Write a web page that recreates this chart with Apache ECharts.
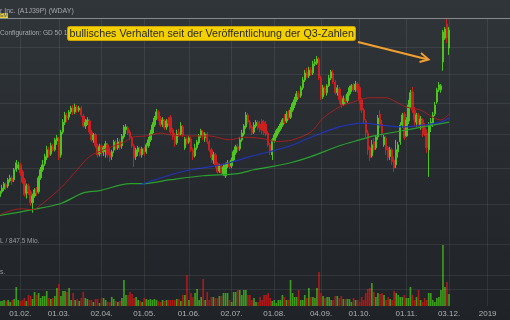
<!DOCTYPE html>
<html><head><meta charset="utf-8">
<script src="https://cdn.jsdelivr.net/npm/echarts@6/dist/echarts.min.js"></script>
<style>html,body{margin:0;padding:0;background:#2a2e33;}#c{width:510px;height:320px;}</style>
</head><body><div id="c"></div>
<script>
// ---- categories (trading days) ----
const startDate = [2018, 0, 18];
const categoryCount = 252;
const holidays = ['2018-02-19','2018-03-30','2018-05-28','2018-07-04','2018-09-03','2018-11-22','2018-12-05','2018-12-25','2019-01-01'];
const tickDates = ['2018-02-01','2018-03-01','2018-04-02','2018-05-01','2018-06-01','2018-07-02','2018-08-01','2018-09-04','2018-10-01','2018-11-01','2018-12-03','2019-01-02'];
const tickLabels = ['01.02.','01.03.','02.04.','01.05.','01.06.','02.07.','01.08.','04.09.','01.10.','01.11.','03.12.','2019'];

// ---- daily candles [open, close, low, high] ----
const ohlc = [
[112.1,113.6,111.6,114.4],[113.4,114.4,112.9,115.3],[114.2,115.6,113.6,116.1],[115.3,114.7,113.9,115.9],[115.0,116.7,114.4,117.2],
[116.4,117.2,115.9,118.1],[117.2,116.1,115.3,117.8],[116.7,119.5,116.1,120.0],[119.5,121.5,118.9,122.3],[120.0,120.9,119.5,121.8],
[120.9,118.6,117.8,121.5],[118.9,116.1,115.6,119.5],[116.7,112.6,112.1,117.2],[113.1,115.0,111.6,115.6],[115.0,113.4,112.6,115.6],
[113.4,110.5,109.7,113.9],[110.5,112.3,107.9,112.9],[112.3,113.9,111.8,114.4],[113.9,113.1,112.3,114.7],[113.4,117.2,112.9,117.8],
[117.2,119.5,116.7,120.3],[119.5,120.9,118.9,122.3],[121.2,123.3,120.6,124.1],[123.0,125.3,122.3,126.5],[125.3,123.8,123.0,126.2],
[124.1,126.5,123.5,127.4],[126.2,125.3,124.8,127.1],[125.3,128.3,124.8,128.9],[128.0,128.9,126.8,129.8],[128.6,123.0,122.3,129.2],
[123.8,130.7,123.0,131.4],[130.7,133.8,130.1,134.8],[133.8,136.1,132.9,137.1],[135.8,135.1,133.8,136.8],[135.4,137.1,134.5,137.7],
[137.1,138.4,136.4,139.1],[138.4,137.1,136.1,139.4],[137.1,138.7,136.4,139.8],[138.7,137.7,136.8,139.4],[137.7,138.4,137.1,139.1],
[138.4,136.1,135.4,139.1],[135.8,132.6,132.0,136.4],[132.6,133.8,131.7,134.8],[133.8,134.5,132.9,135.4],[134.2,130.7,130.1,134.8],
[130.7,128.3,127.7,131.4],[128.3,129.8,127.4,130.4],[129.8,126.5,125.9,130.4],[126.5,123.8,123.0,127.1],[124.1,126.2,123.3,127.1],
[126.5,124.4,123.3,127.1],[124.7,125.9,123.5,126.5],[125.3,127.1,123.0,128.0],[126.8,123.8,123.0,127.4],[124.7,123.0,121.8,125.9],
[123.3,124.7,122.3,125.3],[125.3,127.7,124.4,128.3],[127.4,125.6,125.0,128.3],[125.9,127.7,125.3,128.9],[127.7,126.2,125.3,128.6],
[126.5,129.5,125.6,130.1],[129.2,132.3,128.6,132.9],[131.4,132.3,130.1,133.2],[132.0,130.4,129.8,132.6],[130.7,128.9,128.3,131.4],
[128.9,126.5,125.9,129.5],[126.5,123.0,120.3,127.1],[123.3,125.3,122.3,125.9],[124.7,125.9,123.5,126.5],[125.6,123.8,123.3,126.2],
[123.8,125.6,123.0,126.2],[125.6,124.1,123.5,126.2],[124.7,126.8,124.1,127.4],[126.5,128.3,125.9,129.2],[128.3,130.4,127.7,131.4],
[130.4,132.9,129.8,133.8],[132.9,135.1,132.3,135.8],[135.1,137.1,134.5,138.1],[137.1,135.1,134.2,137.7],[135.1,132.9,132.3,135.8],
[133.2,134.5,132.3,135.4],[134.2,132.0,131.4,134.8],[132.3,134.2,131.4,134.8],[134.5,133.5,132.6,135.4],[135.4,130.7,130.1,136.1],
[131.4,129.2,128.3,132.0],[129.8,127.1,126.2,130.4],[127.4,130.1,126.8,131.4],[130.7,129.8,129.2,131.7],[130.1,132.6,129.5,133.8],
[132.3,129.8,129.2,132.9],[125.9,128.6,125.3,129.2],[128.6,127.4,126.8,129.2],[127.7,128.9,127.1,129.5],[128.6,125.3,124.7,129.2],
[125.3,123.3,122.3,125.9],[123.5,125.9,123.0,127.1],[125.9,127.7,125.3,128.3],[127.4,129.5,126.8,130.1],[129.5,131.1,128.9,131.7],
[130.7,129.2,128.3,131.4],[128.9,130.1,127.7,130.7],[130.1,127.7,127.1,130.7],[127.7,125.3,124.7,128.3],[125.3,123.0,121.5,125.9],
[122.3,123.8,121.2,124.7],[123.8,120.9,120.0,124.4],[121.2,118.9,118.4,121.8],[119.2,120.6,118.6,121.2],[120.6,118.6,118.1,121.2],
[118.4,120.3,117.8,121.2],[117.8,120.9,117.2,121.5],[120.6,121.5,120.0,122.3],[121.5,120.3,119.7,122.1],[120.6,122.3,120.0,123.0],
[122.3,124.7,121.8,125.3],[124.4,126.2,123.8,126.8],[126.2,125.3,124.7,127.1],[125.6,128.3,125.0,129.2],[128.3,130.4,127.7,131.4],
[130.1,132.6,129.5,133.2],[132.3,136.1,131.7,137.1],[136.1,133.8,133.2,136.8],[133.8,132.0,131.4,134.5],[132.3,130.4,129.8,132.9],
[130.7,132.9,130.1,133.8],[132.6,133.8,132.0,134.5],[133.8,132.0,131.4,134.5],[133.2,131.4,130.7,134.2],[134.2,131.1,130.1,134.8],
[133.8,130.4,129.8,134.5],[133.2,130.1,129.5,134.2],[130.4,126.8,126.2,131.1],[126.8,124.7,123.8,127.4],[123.8,128.3,122.3,128.9],
[128.0,129.8,127.4,130.4],[129.5,131.1,128.9,131.7],[130.7,132.0,130.1,132.6],[131.7,133.2,131.1,133.8],[132.9,134.5,132.3,135.1],
[135.1,133.8,133.2,136.4],[134.2,136.4,133.5,137.4],[136.8,135.1,134.5,137.7],[135.4,137.7,134.8,138.7],[137.7,139.8,137.1,140.4],
[139.4,141.1,138.4,142.1],[141.1,143.1,140.4,144.1],[143.1,142.1,141.4,144.1],[142.5,145.2,141.8,145.9],[145.2,147.9,144.5,149.0],
[147.9,150.4,147.2,151.5],[150.8,149.0,148.6,152.2],[149.4,151.5,148.6,152.6],[151.5,150.1,149.4,152.6],[150.4,153.7,149.7,154.8],
[153.7,154.4,152.9,155.5],[154.0,155.5,153.3,156.6],[155.5,148.6,147.9,156.2],[148.6,142.1,141.1,149.4],[142.1,145.2,141.4,146.2],
[145.2,143.5,142.8,145.9],[143.5,145.9,142.5,146.5],[145.9,148.6,145.5,149.7],[148.6,150.8,147.9,151.5],[150.4,147.2,146.5,151.5],
[147.2,143.5,142.8,147.9],[143.5,145.2,142.5,146.2],[144.8,141.1,139.8,145.5],[141.8,139.4,138.4,142.5],[139.8,141.4,139.1,142.5],
[141.4,140.4,139.4,142.8],[140.8,143.1,140.1,143.8],[143.1,145.2,142.5,145.9],[144.5,145.9,143.8,146.5],[145.9,144.5,143.8,146.9],
[144.5,146.5,143.8,147.6],[146.5,144.5,143.5,147.2],[145.2,141.1,139.8,145.9],[141.1,137.7,136.8,141.8],[137.7,134.5,133.2,138.4],
[134.2,130.4,129.2,134.8],[130.4,125.3,123.8,131.4],[125.9,123.0,122.1,126.5],[123.5,126.8,123.0,128.3],[127.7,125.3,124.4,128.9],
[125.9,129.2,125.3,129.8],[129.2,135.1,128.3,136.1],[136.4,132.6,132.0,137.7],[133.2,130.4,129.2,134.5],[126.8,129.2,126.2,129.8],
[128.9,125.3,123.8,129.5],[125.9,123.0,122.1,126.5],[123.3,125.3,122.3,126.2],[125.3,121.8,120.9,125.9],[122.3,120.0,118.9,123.3],
[120.9,125.3,120.0,128.3],[124.7,126.8,123.0,127.7],[127.7,132.9,126.8,133.8],[132.9,136.1,132.0,136.8],[136.4,128.9,128.3,137.1],
[129.5,134.5,129.2,135.4],[134.2,139.4,133.2,141.1],[139.4,143.5,138.4,144.5],[143.8,137.7,136.8,145.5],[137.7,134.5,132.3,138.7],
[133.8,136.1,132.3,136.8],[136.1,133.2,132.3,136.8],[132.6,134.8,131.4,135.8],[134.5,132.0,129.2,135.1],[132.0,130.1,129.5,133.5],
[130.4,125.9,124.4,131.4],[125.3,132.9,117.5,133.8],[132.6,133.8,130.7,135.1],[133.2,136.1,132.3,137.1],[136.4,139.4,135.8,140.4],
[140.4,144.5,139.8,145.2],[144.5,146.2,143.8,147.2],[144.5,145.9,143.5,146.5],[154.4,165.8,151.2,166.6],[163.4,167.0,162.7,167.8],
[169.0,163.4,161.5,171.4],[159.6,166.6,157.0,167.8]
];

// ---- daily volume (Mio.) ----
const volume = [
1.0,1.0,1.2,1.0,1.2,0.8,1.2,1.4,3.8,1.2,
1.0,1.2,1.6,1.0,2.2,2.0,1.4,2.8,2.2,2.6,
1.6,2.0,2.0,3.0,1.6,1.4,1.6,2.0,3.6,4.4,
2.0,3.0,3.0,2.8,3.6,1.2,2.6,1.2,1.4,1.0,
1.6,2.8,1.6,1.4,1.2,1.2,0.8,1.4,1.4,0.6,
1.6,1.6,1.2,0.8,0.8,1.8,1.4,1.0,0.8,1.0,
1.6,5.2,2.2,2.2,2.8,2.4,1.6,1.8,1.2,1.0,
0.8,1.6,1.4,1.2,1.4,1.2,1.4,1.2,1.0,0.8,
1.2,1.0,1.2,1.2,1.2,1.2,1.2,1.4,1.4,1.0,
2.2,2.2,6.2,1.2,2.6,1.8,2.6,3.4,1.2,1.8,
5.4,1.2,2.8,1.2,1.8,1.8,1.6,1.6,2.0,2.0,
2.6,2.6,2.6,1.2,0.8,2.8,2.8,3.2,3.2,2.2,
3.2,3.2,2.2,2.2,1.2,1.6,0.8,0.8,1.8,1.2,
2.2,2.2,2.6,1.6,1.0,1.2,0.6,1.2,1.2,2.2,
1.8,1.2,1.2,5.2,2.6,1.8,1.8,3.2,1.2,1.2,
2.2,1.6,3.6,1.8,1.8,1.6,3.6,6.8,2.6,2.0,
1.6,1.8,1.8,1.2,1.2,2.0,2.0,1.6,2.0,1.4,
1.4,1.4,1.4,0.8,1.6,1.2,1.2,0.8,1.8,1.2,
2.6,3.4,3.6,4.6,2.8,1.8,2.6,2.4,2.6,2.2,
1.2,1.8,1.4,1.2,3.0,2.6,2.2,1.8,1.8,2.2,
1.6,1.6,3.8,2.2,1.2,1.8,3.2,1.2,0.8,1.6,
1.2,2.6,2.6,1.2,0.8,1.6,1.8,3.2,12.2,3.8,
4.8,2.4
];

// ---- moving averages [category index, value] ----
const maRed = [[0,107.4],[10,108.9],[16,108.7],[21,110.3],[30,114.5],[38,119.5],[44,123.3],[51,125.3],[61,127.6],[65,129.1],[72,129.5],[79,130.4],[84,129.8],[94,129.5],[103,129.5],[113,128.3],[120,129.1],[129,128.7],[136,127.8],[144,128.3],[153,130.7],[159,135.1],[167,138.7],[174,140.4],[182,141.8],[190,141.8],[195,140.4],[200,138.7],[207,137.7],[213,135.4],[217,134.5],[221,136.4]];
const maBlue = [[69,115.3],[84,118.1],[94,119.5],[103,120.3],[113,121.5],[123,123.3],[133,124.8],[143,126.5],[153,129.1],[167,132.3],[179,133.5],[187,132.9],[198,132.3],[208,132.9],[217,133.8],[221,135.1]];
const maGreen = [[0,107.2],[16,108.7],[30,110.3],[41,113.1],[49,113.7],[64,115.6],[70,115.6],[84,116.7],[100,117.8],[117,118.4],[125,119.5],[133,120.3],[143,121.5],[153,123.3],[167,126.5],[177,128.3],[184,129.5],[198,131.1],[208,132.3],[221,133.8]];

const priceGridLevels = [90,100,110,120,130,140,150,160];
const volumeGridLevels = [6.2];

// ---- build trading-day categories ----
function buildDays() {
  const out = [];
  const d = new Date(Date.UTC(startDate[0], startDate[1], startDate[2]));
  while (out.length < categoryCount) {
    const wd = d.getUTCDay();
    const s = d.toISOString().slice(0, 10);
    if (wd !== 0 && wd !== 6 && holidays.indexOf(s) < 0) out.push(s);
    d.setUTCDate(d.getUTCDate() + 1);
  }
  return out;
}
const days = buildDays();
const isTick = (i, v) => tickDates.indexOf(v) >= 0;

const UP = '#4fc41f', DOWN = '#cc1f1f';
const VUP = '#3c9a1e', VDOWN = '#a81a1a';
const GRIDC = 'rgba(255,255,255,0.075)';
const FONT = '"Liberation Sans", Arial, sans-serif';

const chart = echarts.init(document.getElementById('c'), null, {renderer: 'canvas'});
chart.setOption({
  animation: false,
  backgroundColor: new echarts.graphic.LinearGradient(0, 0, 0, 1, [
    {offset: 0, color: '#30353a'}, {offset: 1, color: '#1f2226'}
  ]),
  grid: [
    {left: 0, right: 0, top: 18, bottom: 14},
    {left: 0, right: 0, top: 226, bottom: 14}
  ],
  xAxis: [
    {type: 'category', gridIndex: 0, data: days, boundaryGap: false,
     axisLine: {show: false}, axisTick: {show: false},
     axisLabel: {interval: isTick, color: '#b0b3b6', fontSize: 8, fontFamily: FONT, margin: 4,
       formatter: v => { const j = tickDates.indexOf(v); return j >= 0 ? tickLabels[j] : ''; }},
     splitLine: {show: true, interval: isTick, lineStyle: {color: GRIDC, width: 1}}},
    {type: 'category', gridIndex: 1, data: days, boundaryGap: false, show: false}
  ],
  yAxis: [
    {type: 'log', gridIndex: 0, min: 86.44, max: 171.4, show: false, splitLine: {show: false}},
    {type: 'value', gridIndex: 1, min: 0, max: 16, show: false, splitLine: {show: false}}
  ],
  series: [
    {type: 'bar', xAxisIndex: 1, yAxisIndex: 1, barWidth: 1.7, z: 1,
     data: volume.map((v, i) => ({value: v, itemStyle: {color: ohlc[i][1] >= ohlc[i][0] ? VUP : VDOWN}})),
     markLine: {silent: true, symbol: ['none', 'none'], label: {show: false},
       lineStyle: {color: GRIDC, type: 'solid', width: 1},
       data: volumeGridLevels.map(v => ({yAxis: v}))}},
    {type: 'candlestick', xAxisIndex: 0, yAxisIndex: 0, barWidth: 1.9, clip: false, z: 3,
     data: ohlc,
     itemStyle: {color: UP, color0: DOWN, borderColor: UP, borderColor0: DOWN, borderWidth: 1},
     markLine: {silent: true, symbol: ['none', 'none'], label: {show: false},
       lineStyle: {color: GRIDC, type: 'solid', width: 1},
       data: priceGridLevels.map(v => ({yAxis: v}))}},
    {type: 'line', xAxisIndex: 0, yAxisIndex: 0, data: maGreen, showSymbol: false, smooth: 0.3, z: 4,
     lineStyle: {color: '#2aa12f', width: 1.2}},
    {type: 'line', xAxisIndex: 0, yAxisIndex: 0, data: maBlue, showSymbol: false, smooth: 0.3, z: 4,
     lineStyle: {color: '#2233b8', width: 1.2}},
    {type: 'line', xAxisIndex: 0, yAxisIndex: 0, data: maRed, showSymbol: false, smooth: 0.3, z: 4,
     lineStyle: {color: '#a32020', width: 1}}
  ],
  graphic: [
    {type: 'line', z: 10, shape: {x1: 0, y1: 18.5, x2: 510, y2: 18.5}, style: {stroke: '#85898d', lineWidth: 1}},
    {type: 'text', z: 10, x: 0, y: 11, style: {text: 'r Inc. (A1J39P) (WDAY)', font: '7px ' + FONT, fill: '#a4a8ac', textAlign: 'left', textVerticalAlign: 'middle', align: 'left', verticalAlign: 'middle'}},
    {type: 'rect', z: 10, shape: {x: 0, y: 13, width: 8, height: 5}, style: {fill: '#e6d23c'}},
    {type: 'text', z: 11, x: 4, y: 15.6, style: {text: 'EM', font: '5px ' + FONT, fill: '#555', textAlign: 'center', textVerticalAlign: 'middle', align: 'center', verticalAlign: 'middle'}},
    {type: 'text', z: 10, x: 0, y: 33, style: {text: 'Configuration: GD 50 100 200', font: '6.6px ' + FONT, fill: '#a4a8ac', textAlign: 'left', textVerticalAlign: 'middle', align: 'left', verticalAlign: 'middle'}},
    {type: 'rect', z: 12, shape: {x: 67.5, y: 26.5, width: 288, height: 14, r: 2}, style: {fill: '#f4d000', stroke: '#c9a400', lineWidth: 1}},
    {type: 'text', z: 13, x: 69.5, y: 33.8, style: {text: 'bullisches Verhalten seit der Veröffentlichung der Q3-Zahlen', font: '10.7px ' + FONT, fill: '#2a2a2a', textAlign: 'left', textVerticalAlign: 'middle', align: 'left', verticalAlign: 'middle'}},
    {type: 'line', z: 12, shape: {x1: 358, y1: 42, x2: 428, y2: 59.5}, style: {stroke: '#f0a030', lineWidth: 2}},
    {type: 'polyline', z: 12, shape: {points: [[421, 53], [428.5, 59.5], [419.5, 62]]}, style: {stroke: '#f0a030', lineWidth: 2, fill: null}},
    {type: 'text', z: 10, x: 0, y: 241, style: {text: 'L / 847.5 Mio.', font: '6.5px ' + FONT, fill: '#9a9ea2', textAlign: 'left', textVerticalAlign: 'middle', align: 'left', verticalAlign: 'middle'}},
    {type: 'text', z: 10, x: 0, y: 272, style: {text: 's.', font: '6.5px ' + FONT, fill: '#9a9ea2', textAlign: 'left', textVerticalAlign: 'middle', align: 'left', verticalAlign: 'middle'}}
  ]
});
</script>
</body></html>
